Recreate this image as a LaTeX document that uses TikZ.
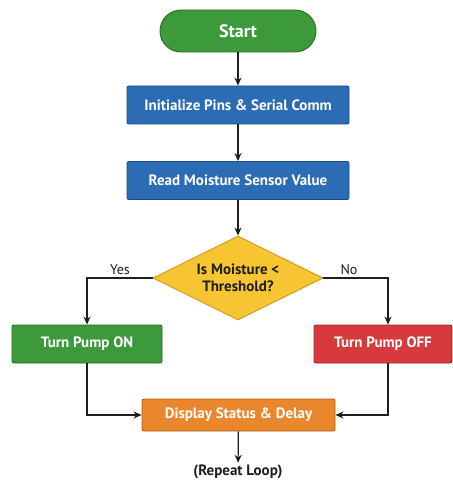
\documentclass[tikz,border=0pt]{standalone}
\usepackage{fontspec}
\setmainfont{PT Sans}
\usetikzlibrary{shapes.geometric,arrows.meta,calc}
\definecolor{gfill}{HTML}{3C9A3A}
\definecolor{gdraw}{HTML}{2A6B28}
\definecolor{bfill}{HTML}{2B6CB4}
\definecolor{bdraw}{HTML}{1B4B83}
\definecolor{yfill}{HTML}{F6C531}
\definecolor{ydraw}{HTML}{C99A1C}
\definecolor{rfill}{HTML}{D63A3C}
\definecolor{rdraw}{HTML}{9C2426}
\definecolor{ofill}{HTML}{EA872C}
\definecolor{odraw}{HTML}{B2601A}
\definecolor{ink}{HTML}{1E1E1E}
\begin{document}
\begin{tikzpicture}[x=1pt,y=-1pt,
  lbl/.style={font=\bfseries\fontsize{15}{17}\selectfont},
  procbox/.style={lbl,rectangle,rounded corners=2pt,line width=0.9pt,text=white,minimum height=38pt},
  arr/.style={-{Stealth[length=8pt,width=7pt]},line width=1.2pt,ink},
]
\useasboundingbox (0,0) rectangle (452,481);
\fill[white] (0,0) rectangle (452,481);
\node[lbl,draw=gdraw,fill=gfill,text=white,rounded corners=21pt,line width=0.9pt,minimum width=156pt,minimum height=42pt,font=\bfseries\fontsize{18}{20}\selectfont] (start) at (238,31) {Start};
\node[procbox,draw=bdraw,fill=bfill,minimum width=222pt] (init) at (238,105) {Initialize Pins \& Serial Comm};
\node[procbox,draw=bdraw,fill=bfill,minimum width=222pt] (read) at (238,180.5) {Read Moisture Sensor Value};
\node[lbl,diamond,aspect=2,draw=ydraw,fill=yfill,line width=0.9pt,inner sep=0pt,minimum width=170pt,minimum height=84pt,align=center,text=ink] (dec) at (238,278) {Is Moisture <\\Threshold?};
\node[procbox,draw=gdraw,fill=gfill,minimum width=150pt] (on) at (87,344) {Turn Pump ON};
\node[procbox,draw=rdraw,fill=rfill,minimum width=138pt] (off) at (383,344) {Turn Pump OFF};
\node[procbox,draw=odraw,fill=ofill,minimum width=193pt,minimum height=32pt] (disp) at (238.5,415) {Display Status \& Delay};
\node[lbl,text=ink,inner sep=2pt] (loop) at (238,472) {(Repeat Loop)};
\node[font=\fontsize{14}{16}\selectfont,text=ink] (yes) at (120,270) {Yes};
\node[font=\fontsize{14}{16}\selectfont,text=ink] (no) at (349,270) {No};
\draw[arr] (start) -- (init);
\draw[arr] (init) -- (read);
\draw[arr] (read) -- (dec);
\draw[arr] (dec.west) -| (on.north);
\draw[arr] (dec.east) -| ([xshift=5pt]off.north);
\draw[arr] (on.south) |- (disp.west);
\draw[arr] ([xshift=5pt]off.south) |- (disp.east);
\draw[arr] (disp) -- (loop);
\end{tikzpicture}
\end{document}
